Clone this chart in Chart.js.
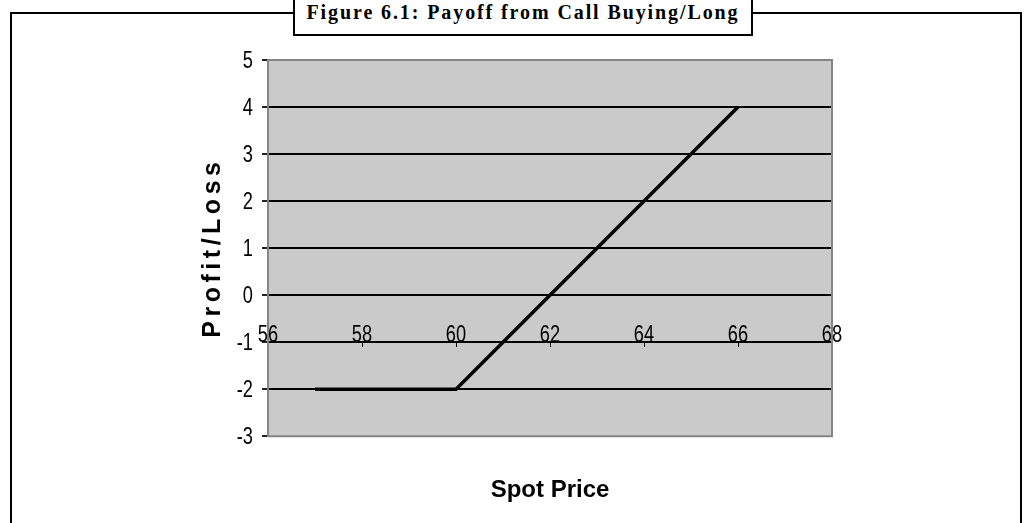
<!DOCTYPE html>
<html>
<head>
<meta charset="utf-8">
<script src="https://cdn.jsdelivr.net/npm/chart.js@4.4.1/dist/chart.umd.min.js"></script>
<style>
html,body{margin:0;padding:0;background:#fff;}
#wrap{position:relative;width:1030px;height:523px;overflow:hidden;}
#frame{position:absolute;left:10px;top:12px;width:1012px;height:600px;border:2px solid #000;box-sizing:border-box;}
#figtitle{position:absolute;left:293px;top:-4px;width:460px;height:40px;border:2px solid #000;box-sizing:border-box;background:#fff;
  font:bold 20px "Liberation Serif","Times New Roman",serif;letter-spacing:1.9px;text-align:center;line-height:28px;color:#000;white-space:nowrap;}
#c{position:absolute;left:0;top:0;}
</style>
</head>
<body>
<div id="wrap">
  <div id="frame"></div>
  <div id="figtitle">Figure 6.1: Payoff from Call Buying/Long</div>
  <canvas id="c" width="1030" height="523"></canvas>
</div>
<script>
// Data
const spotPrices = [57, 60, 66];
const profitLoss = [-2, -2, 4];
const xTickValues = [56, 58, 60, 62, 64, 66, 68];
const yTickValues = [-3, -2, -1, 0, 1, 2, 3, 4, 5];
const xAxisCrossesAt = -1;
const xAxisTitle = 'Spot Price';
const yAxisTitle = 'Profit/Loss';

const narrowFont = 'normal 24px "Liberation Sans", Arial, sans-serif';
const narrowScale = 0.76;

const plotDeco = {
  id: 'plotDeco',
  beforeDraw(chart) {
    const {ctx, chartArea: a} = chart;
    ctx.save();
    ctx.fillStyle = '#cacaca';
    ctx.fillRect(a.left, a.top, a.right - a.left, a.bottom - a.top);
    ctx.restore();
  },
  beforeDatasetsDraw(chart) {
    const {ctx, chartArea: a} = chart;
    ctx.save();
    ctx.strokeStyle = '#858585';
    ctx.lineWidth = 2;
    ctx.beginPath();
    ctx.moveTo(a.left, a.top);
    ctx.lineTo(a.right, a.top);
    ctx.lineTo(a.right, a.bottom);
    ctx.lineTo(a.left, a.bottom);
    ctx.stroke();
    ctx.restore();
  },
  afterDraw(chart) {
    const {ctx, chartArea: a} = chart;
    const xs = chart.scales.x, ys = chart.scales.y;
    // y axis title
    ctx.save();
    ctx.translate(213, (a.top + a.bottom) / 2 + 2);
    ctx.rotate(-Math.PI / 2);
    ctx.font = 'bold 25px "Liberation Sans", Arial, sans-serif';
    ctx.letterSpacing = '4.5px';
    ctx.fillStyle = '#000';
    ctx.textAlign = 'center';
    ctx.textBaseline = 'middle';
    ctx.fillText(yAxisTitle, 2.5, 0);
    ctx.restore();
    // narrow tick labels
    ctx.save();
    ctx.font = narrowFont;
    ctx.fillStyle = '#000';
    ctx.textBaseline = 'middle';
    yTickValues.forEach(v => {
      ctx.save();
      ctx.translate(a.left - 15, ys.getPixelForValue(v) + 1);
      ctx.scale(narrowScale, 1);
      ctx.textAlign = 'right';
      ctx.fillText(String(v), 0, 0);
      ctx.restore();
    });
    const yAxisPix = ys.getPixelForValue(xAxisCrossesAt);
    xTickValues.forEach(v => {
      ctx.save();
      ctx.translate(xs.getPixelForValue(v), yAxisPix - 7);
      ctx.scale(narrowScale, 1);
      ctx.textAlign = 'center';
      ctx.fillText(String(v), 0, 0);
      ctx.restore();
    });
    ctx.restore();
  }
};

new Chart(document.getElementById('c'), {
  type: 'scatter',
  data: {
    datasets: [{
      data: spotPrices.map((x, i) => ({x: x, y: profitLoss[i]})),
      showLine: true,
      borderColor: '#000',
      borderWidth: 3.5,
      pointRadius: 0,
      pointHoverRadius: 0,
      tension: 0
    }]
  },
  options: {
    responsive: false,
    animation: false,
    events: [],
    layout: {padding: {left: 0, right: 198, top: 60, bottom: 8}},
    plugins: {
      legend: {display: false},
      tooltip: {enabled: false},
      title: {
        display: true,
        text: xAxisTitle,
        position: 'bottom',
        fullSize: false,
        color: '#000',
        font: {family: '"Liberation Sans", Arial, sans-serif', size: 24, weight: 'bold'},
        padding: {top: 40, bottom: 10}
      }
    },
    scales: {
      x: {
        type: 'linear',
        position: {y: xAxisCrossesAt},
        min: xTickValues[0],
        max: xTickValues[xTickValues.length - 1],
        afterBuildTicks: s => { s.ticks = xTickValues.map(v => ({value: v})); },
        afterFit: s => { s.height = 0; },
        ticks: {display: false, autoSkip: false, maxRotation: 0},
        grid: {display: true, drawOnChartArea: false, drawTicks: true, tickLength: 4, color: '#000', lineWidth: 1},
        border: {display: true, color: '#000', width: 2}
      },
      y: {
        type: 'linear',
        position: 'left',
        min: yTickValues[0],
        max: yTickValues[yTickValues.length - 1],
        afterBuildTicks: s => { s.ticks = yTickValues.map(v => ({value: v})); },
        afterFit: s => { s.width = 268; },
        ticks: {display: false},
        grid: {
          color: c => (c.tick && (c.tick.value === 5 || c.tick.value === -3)) ? 'rgba(0,0,0,0)' : '#000',
          lineWidth: 2,
          tickColor: '#222',
          tickLength: 6
        },
        border: {display: true, color: '#858585', width: 2}
      }
    }
  },
  plugins: [plotDeco]
});
</script>
</body>
</html>
